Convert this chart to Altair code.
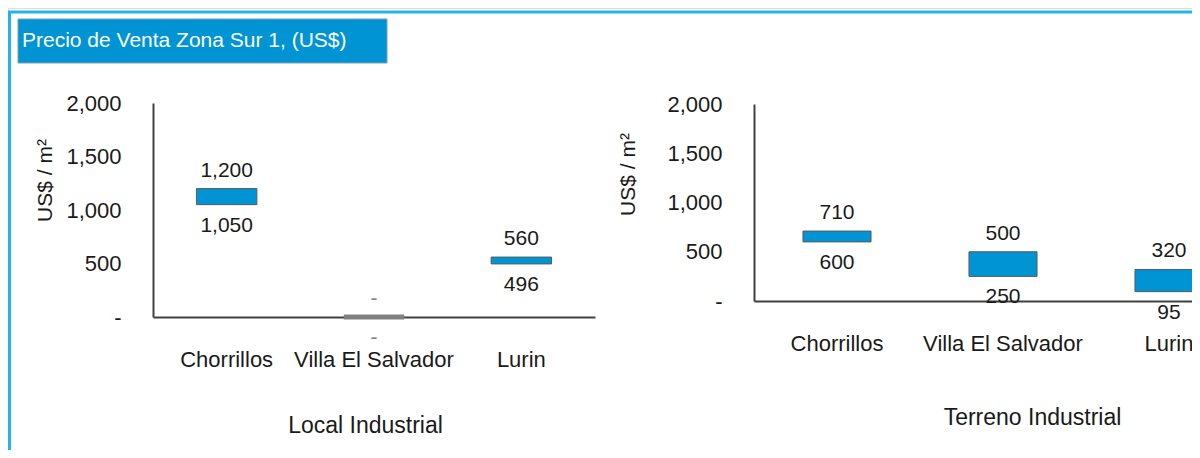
import altair as alt
import pandas as pd

# ---- data ----
zones = ["Chorrillos", "Villa El Salvador", "Lurin"]
local_low = [1050, 0, 496]
local_high = [1200, 0, 560]
terreno_low = [600, 250, 95]
terreno_high = [710, 500, 320]
y_ticks = [0, 500, 1000, 1500, 2000]

title_text = "Precio de Venta Zona Sur 1, (US$)"
y_title = "US$ / m²"
left_title = "Local Industrial"
right_title = "Terreno Industrial"

FONT = "Liberation Sans, Arial, Helvetica, sans-serif"
BLUE = "#0094D4"
FRAME = "#22B4EA"
TXT = "#1a1a1a"
AX = "#404040"
GRAY = "#808080"

W, H = 1184, 442

left_df = pd.DataFrame({"zone": zones, "low": local_low, "high": local_high})
right_df = pd.DataFrame({"zone": zones, "low": terreno_low, "high": terreno_high})
one = pd.DataFrame({"k": [0]})

LABEL_EXPR = "datum.value == 0 ? '-' : format(datum.value, ',')"


def panel(df, x_range, y_range, xaxis_offset, yaxis_offset, xtitle, xtitle_x, xtitle_y,
          ytitle_x, ytitle_y):
    xscale = alt.Scale(domain=zones, range=x_range, paddingInner=0.59, paddingOuter=0.295)
    yscale = alt.Scale(domain=[0, 2000], range=y_range, nice=False, zero=False)
    x_axis = alt.Axis(
        orient="bottom", offset=xaxis_offset, labelAngle=0, ticks=False, tickSize=0,
        labelPadding=42, labelBaseline="middle", labelFont=FONT, labelFontSize=22,
        labelColor=TXT, labelOverlap=False, labelLimit=400,
        domainColor=AX, domainWidth=2,
        title=xtitle, titleX=xtitle_x, titleY=xtitle_y, titleAlign="center",
        titleBaseline="middle", titleFont=FONT, titleFontSize=23,
        titleFontWeight="normal", titleColor=TXT,
    )
    y_axis = alt.Axis(
        orient="left", offset=yaxis_offset, values=y_ticks, labelExpr=LABEL_EXPR,
        grid=False, ticks=False, tickSize=0, labelPadding=32, labelFont=FONT,
        labelFontSize=22, labelColor=TXT, domainColor=AX, domainWidth=2,
        title=y_title, titleX=ytitle_x, titleY=ytitle_y, titleAngle=270,
        titleAlign="center", titleBaseline="middle", titleFont=FONT,
        titleFontSize=21, titleFontWeight="normal", titleColor=TXT,
    )
    base = alt.Chart(df)
    bars = base.mark_bar().encode(
        x=alt.X("zone:N", scale=xscale, axis=x_axis, sort=zones),
        y=alt.Y("low:Q", scale=yscale, axis=y_axis),
        y2="high:Q",
        fill=alt.condition("datum.high == 0", alt.value(GRAY), alt.value(BLUE)),
        stroke=alt.condition("datum.high == 0", alt.value(GRAY), alt.value("#5a5a5a")),
        strokeWidth=alt.condition("datum.high == 0", alt.value(5), alt.value(1)),
    )
    top = base.transform_calculate(
        lab="datum.high == 0 ? '-' : format(datum.high, ',')"
    ).mark_text(font=FONT, fontSize=21, baseline="middle", dy=-18).encode(
        x=alt.X("zone:N", scale=xscale, axis=x_axis, sort=zones),
        y=alt.Y("high:Q", scale=yscale, axis=y_axis),
        text="lab:N",
        color=alt.condition("datum.high == 0", alt.value(GRAY), alt.value(TXT)),
    )
    bottom = base.transform_calculate(
        lab="datum.low == 0 ? '-' : format(datum.low, ',')"
    ).mark_text(font=FONT, fontSize=21, baseline="middle", dy=21).encode(
        x=alt.X("zone:N", scale=xscale, axis=x_axis, sort=zones),
        y=alt.Y("low:Q", scale=yscale, axis=y_axis),
        text="lab:N",
        color=alt.condition("datum.low == 0", alt.value(GRAY), alt.value(TXT)),
    )
    return alt.layer(bars, top, bottom)


# x-axis offsets place the baseline; y-axis offsets place the vertical axis line
left = panel(left_df, [145, 587], [309, 95], 309 - H, -145, left_title, 357, 108, -108, 172)
right = panel(right_df, [746, 1244], [293, 96], 293 - H, -746, right_title, 1024, 116, -126, 166)

frame = alt.Chart(one).mark_rect(fill="transparent", stroke=FRAME, strokeWidth=3).encode(
    x=alt.value(1.5), x2=alt.value(1400), y=alt.value(4), y2=alt.value(700)
)
title_box = alt.Chart(one).mark_rect(fill=BLUE, stroke="#7f9fb0", strokeWidth=1).encode(
    x=alt.value(10), x2=alt.value(379), y=alt.value(11), y2=alt.value(55)
)
title_label = alt.Chart(one).mark_text(
    text=title_text, font=FONT, fontSize=21, color="white", align="left", baseline="middle"
).encode(x=alt.value(14), y=alt.value(33))

chart = alt.layer(frame, title_box, title_label, left, right).resolve_scale(
    x="independent", y="independent"
).resolve_axis(x="independent", y="independent").properties(
    width=W, height=H, padding=0, autosize=alt.AutoSizeParams(type="none")
).configure_view(strokeWidth=0).configure(font=FONT)

chart.save("out.html", embed_options={"renderer": "svg", "actions": False})
